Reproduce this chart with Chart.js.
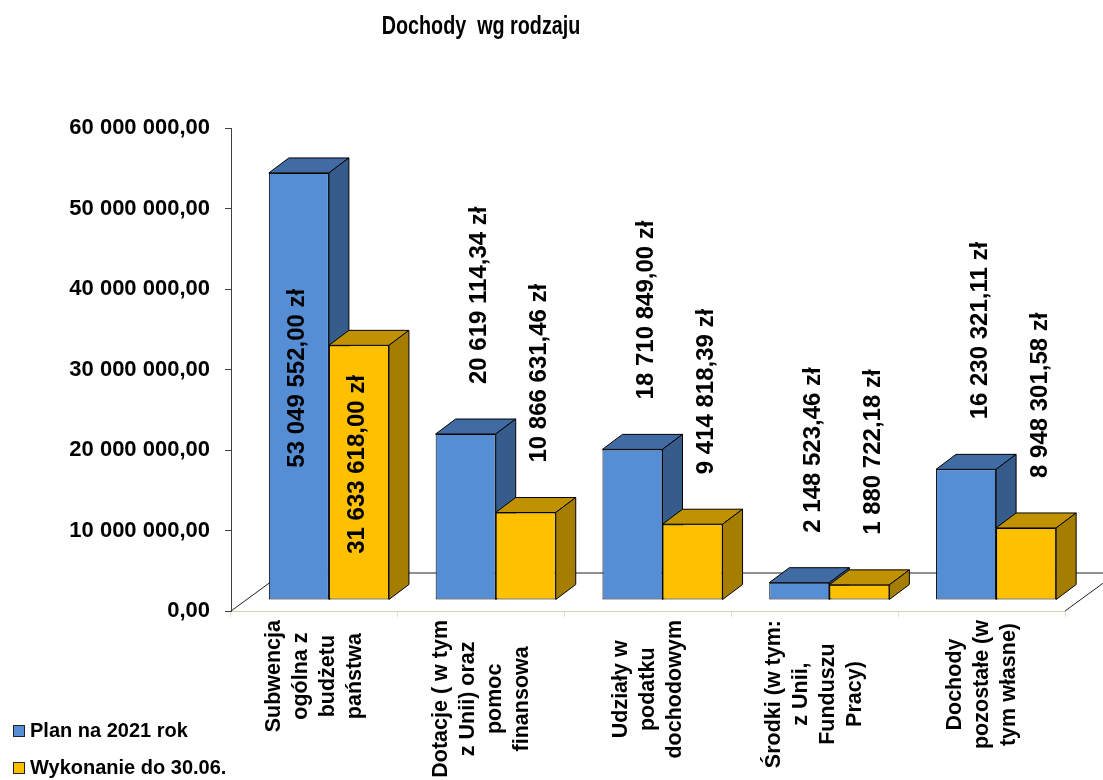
<!DOCTYPE html>
<html>
<head>
<meta charset="utf-8">
<script src="https://cdn.jsdelivr.net/npm/chart.js@4.4.1/dist/chart.umd.min.js"></script>
<style>
  html, body { margin: 0; padding: 0; background: #fff; }
</style>
</head>
<body>
<canvas id="chart" width="1103" height="780"></canvas>
<script>
// data
const chartTitle = 'Dochody  wg rodzaju';
const categories = [
  ['Subwencja', 'ogólna z', 'budżetu', 'państwa'],
  ['Dotacje ( w tym', 'z Unii) oraz', 'pomoc', 'finansowa'],
  ['Udziały w', 'podatku', 'dochodowym'],
  ['Środki (w tym:', 'z Unii,', 'Funduszu', 'Pracy)'],
  ['Dochody', 'pozostałe (w', 'tym własne)']
];
const seriesNames = ['Plan na 2021 rok', 'Wykonanie do 30.06.'];
const planValues = [53049552.00, 20619114.34, 18710849.00, 2148523.46, 16230321.11];
const doneValues = [31633618.00, 10866631.46, 9414818.39, 1880722.18, 8948301.58];
const yTicks = [0, 10000000, 20000000, 30000000, 40000000, 50000000, 60000000];

// styles
const frontColors = ['#558ed5', '#ffc000'];
const topColors = ['#416ba3', '#c09100'];
const sideColors = ['#365c8c', '#a57d00'];
const FONT = "'Liberation Sans', Arial, sans-serif";
const DEPTH = { x: 20, y: -15 };     // depth of a bar
const FLOOR = { x: 52, y: -38 };     // depth of the floor
const SHIFT = { x: 14.5, y: -11 };   // bars sit a bit behind the front edge

function fmt(v) {
    const parts = v.toFixed(2).split('.');
    return parts[0].replace(/\B(?=(\d{3})+(?!\d))/g, ' ') + ',' + parts[1];
}

function poly(ctx, pts, fill) {
    ctx.beginPath();
    ctx.moveTo(pts[0][0], pts[0][1]);
    for (let i = 1; i < pts.length; i++) ctx.lineTo(pts[i][0], pts[i][1]);
    ctx.closePath();
    ctx.fillStyle = fill;
    ctx.fill();
    ctx.stroke();
}

const bars3d = {
    id: 'bars3d',
    beforeDatasetsDraw(chart) {
        const ctx = chart.ctx;
        const a = chart.chartArea;
        ctx.save();
        ctx.strokeStyle = '#222';
        ctx.lineWidth = 1;
        ctx.beginPath();
        ctx.moveTo(a.left, a.bottom);
        ctx.lineTo(a.left + FLOOR.x, a.bottom + FLOOR.y);
        ctx.lineTo(a.right + FLOOR.x, a.bottom + FLOOR.y);
        ctx.moveTo(a.right, a.bottom);
        ctx.lineTo(a.right + FLOOR.x, a.bottom + FLOOR.y);
        ctx.stroke();
        ctx.restore();
    },
    beforeDatasetDraw() {
        // bars are drawn below in afterDatasetsDraw, in front-to-back order
        return false;
    },
    afterDatasetsDraw(chart) {
        const ctx = chart.ctx;
        const a = chart.chartArea;
        ctx.save();
        ctx.translate(SHIFT.x, SHIFT.y);
        ctx.strokeStyle = '#000';
        ctx.lineWidth = 1;
        [0, 1].forEach(ds => {
            const meta = chart.getDatasetMeta(ds);
            meta.data.forEach(el => {
                el.draw(ctx);
                const p = el.getProps(['x', 'y', 'base', 'width'], true);
                const l = p.x - p.width / 2, r = p.x + p.width / 2;
                poly(ctx, [[l, p.y], [l + DEPTH.x, p.y + DEPTH.y], [r + DEPTH.x, p.y + DEPTH.y], [r, p.y]], topColors[ds]);
                poly(ctx, [[r, p.y], [r + DEPTH.x, p.y + DEPTH.y], [r + DEPTH.x, p.base + DEPTH.y], [r, p.base]], sideColors[ds]);
            });
        });
        ctx.restore();

        // value labels
        ctx.save();
        ctx.font = 'bold 24px ' + FONT;
        ctx.fillStyle = '#000';
        ctx.textBaseline = 'middle';
        [0, 1].forEach(ds => {
            const values = chart.data.datasets[ds].data;
            chart.getDatasetMeta(ds).data.forEach((el, i) => {
                const p = el.getProps(['x', 'y', 'base'], true);
                const text = fmt(values[i]) + ' zł';
                const w = ctx.measureText(text).width;
                const topY = p.y + SHIFT.y + DEPTH.y;
                ctx.save();
                if (topY - 35 - w < a.top) {
                    ctx.translate(p.x + SHIFT.x - 2, (p.y + p.base) / 2 + SHIFT.y - 8);
                    ctx.rotate(-Math.PI / 2);
                    ctx.textAlign = 'center';
                } else {
                    ctx.translate(p.x + SHIFT.x + 14, topY - 35);
                    ctx.rotate(-Math.PI / 2);
                    ctx.textAlign = 'left';
                }
                ctx.fillText(text, 0, 0);
                ctx.restore();
            });
        });
        ctx.restore();
    },
    afterDraw(chart) {
        const ctx = chart.ctx;
        const xs = chart.scales.x;

        // title
        ctx.save();
        ctx.fillStyle = '#000';
        ctx.textAlign = 'center';
        ctx.textBaseline = 'alphabetic';
        ctx.translate(481, 34);
        ctx.scale(0.79, 1);
        ctx.font = 'bold 25px ' + FONT;
        ctx.fillText(chartTitle, 0, 0);
        ctx.restore();

        // category labels, rotated, centred lines
        ctx.save();
        ctx.fillStyle = '#000';
        ctx.font = 'bold 21.5px ' + FONT;
        ctx.textAlign = 'center';
        ctx.textBaseline = 'middle';
        chart.data.labels.forEach((lines, i) => {
            const cx = xs.getPixelForValue(i);
            const maxW = Math.max(...lines.map(s => ctx.measureText(s).width));
            ctx.save();
            ctx.translate(cx, xs.bottom + 3);
            ctx.rotate(-Math.PI / 2);
            lines.forEach((s, j) => {
                ctx.fillText(s, -maxW / 2, (j - (lines.length - 1) / 2) * 27);
            });
            ctx.restore();
        });
        ctx.restore();

        // legend
        ctx.save();
        ctx.font = 'bold 20px ' + FONT;
        ctx.textBaseline = 'middle';
        ctx.strokeStyle = '#222';
        ctx.lineWidth = 1;
        seriesNames.forEach((name, i) => {
            const y = 731 + i * 37;
            ctx.fillStyle = frontColors[i];
            ctx.fillRect(13.5, y - 5.5, 11, 11);
            ctx.strokeRect(13.5, y - 5.5, 11, 11);
            ctx.fillStyle = '#000';
            ctx.fillText(name, 30, y);
        });
        ctx.restore();
    }
};

new Chart(document.getElementById('chart'), {
    type: 'bar',
    data: {
        labels: categories,
        datasets: [{
            label: seriesNames[0],
            data: planValues,
            backgroundColor: frontColors[0],
            borderColor: '#000',
            borderWidth: 1,
            borderSkipped: false,
            categoryPercentage: 0.72,
            barPercentage: 1.0,
            clip: false
        }, {
            label: seriesNames[1],
            data: doneValues,
            backgroundColor: frontColors[1],
            borderColor: '#000',
            borderWidth: 1,
            borderSkipped: false,
            categoryPercentage: 0.72,
            barPercentage: 1.0,
            clip: false
        }]
    },
    options: {
        responsive: false,
        animation: false,
        layout: { padding: { top: 128, right: 38, bottom: 163, left: 0 } },
        plugins: {
            legend: { display: false },
            title: { display: false },
            tooltip: { enabled: false }
        },
        scales: {
            x: {
                grid: { display: true, drawOnChartArea: false, tickLength: 6, color: '#e2e2c6' },
                border: { color: '#d2d2ae' },
                ticks: { display: false }
            },
            y: {
                min: 0,
                max: 60000000,
                afterBuildTicks(scale) {
                    scale.ticks = yTicks.map(v => ({ value: v }));
                },
                ticks: {
                    callback: v => fmt(v),
                    color: '#000',
                    font: { family: FONT, size: 22, weight: 'bold' },
                    padding: 15
                },
                grid: { drawOnChartArea: false, tickLength: 6, color: '#404040' },
                border: { color: '#404040' },
                afterFit(scale) { scale.width = 231; }
            }
        }
    },
    plugins: [bars3d]
});
</script>
</body>
</html>
